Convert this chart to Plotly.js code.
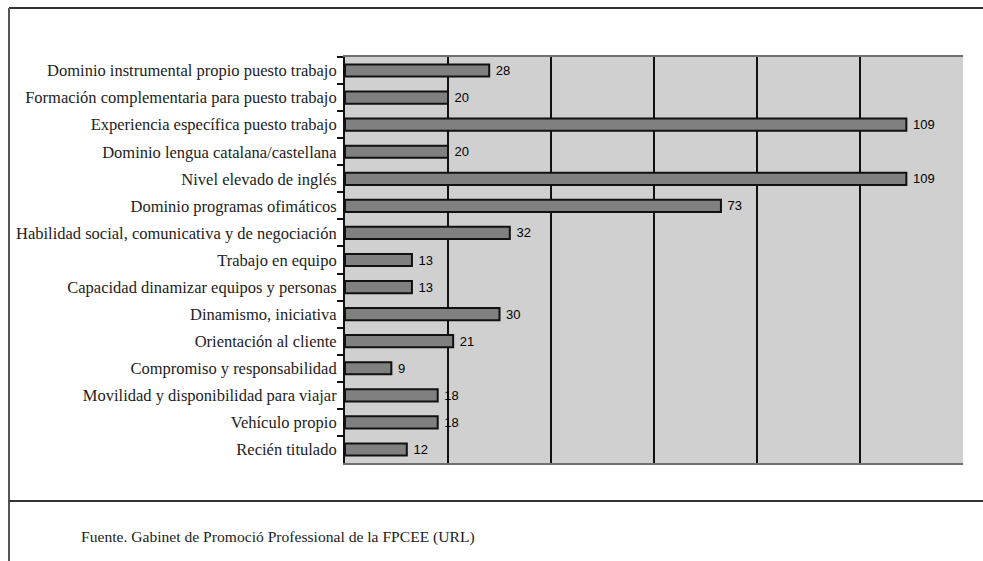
<!DOCTYPE html>
<html>
<head>
<meta charset="utf-8">
<script src="https://cdn.plot.ly/plotly-3.0.1.min.js"></script>
<style>
html,body{margin:0;padding:0;background:#fff;}
#chart{width:983px;height:561px;}
</style>
</head>
<body>
<div id="chart"></div>
<script>
const categories = [
  "Dominio instrumental propio puesto trabajo",
  "Formación complementaria para puesto trabajo",
  "Experiencia específica puesto trabajo",
  "Dominio lengua catalana/castellana",
  "Nivel elevado de inglés",
  "Dominio programas ofimáticos",
  "Habilidad social, comunicativa y de negociación",
  "Trabajo en equipo",
  "Capacidad dinamizar equipos y personas",
  "Dinamismo, iniciativa",
  "Orientación al cliente",
  "Compromiso y responsabilidad",
  "Movilidad y disponibilidad para viajar",
  "Vehículo propio",
  "Recién titulado"
];
const values = [28, 20, 109, 20, 109, 73, 32, 13, 13, 30, 21, 9, 18, 18, 12];
const sourceText = "Fuente. Gabinet de Promoció Professional de la FPCEE (URL)";

const W = 983, H = 561, ml = 345, mr = 20, mt = 57, mb = 98;
const pw = W - ml - mr, ph = H - mt - mb;
const px = x => (x - ml) / pw;
const py = y => (H - mb - y) / ph;

const trace = {
  type: 'bar',
  orientation: 'h',
  y: categories,
  x: values,
  text: values.map(v => '\u00a0' + v),
  textposition: 'outside',
  constraintext: 'none',
  cliponaxis: false,
  textfont: {family: 'Liberation Sans, Arial, sans-serif', size: 13, color: '#000'},
  outsidetextfont: {family: 'Liberation Sans, Arial, sans-serif', size: 13, color: '#000'},
  marker: {color: '#808080', line: {color: '#111', width: 2}},
  width: 0.45,
  hoverinfo: 'none'
};

const layout = {
  width: W, height: H,
  margin: {l: ml, r: mr, t: mt, b: mb, pad: 0},
  paper_bgcolor: '#ffffff',
  plot_bgcolor: '#d0d0d0',
  showlegend: false,
  xaxis: {
    range: [0, 120],
    dtick: 20,
    tick0: 0,
    showgrid: true,
    gridcolor: '#111',
    gridwidth: 2,
    zeroline: false,
    showticklabels: false,
    ticks: '',
    showline: true,
    linecolor: '#707070',
    linewidth: 2,
    mirror: true,
    fixedrange: true
  },
  yaxis: {
    type: 'category',
    autorange: 'reversed',
    tickson: 'boundaries',
    ticks: 'outside',
    ticklen: 6,
    tickwidth: 2,
    tickcolor: '#111',
    showgrid: false,
    zeroline: false,
    showline: true,
    linecolor: '#111',
    linewidth: 2,
    tickfont: {family: 'Liberation Serif, Times New Roman, serif', size: 16.5, color: '#222'},
    ticklabelstandoff: 3,
    fixedrange: true
  },
  shapes: [
    {type: 'line', xref: 'paper', yref: 'paper', x0: px(9), x1: px(983), y0: py(8), y1: py(8), line: {color: '#333', width: 2}},
    {type: 'line', xref: 'paper', yref: 'paper', x0: px(9), x1: px(9), y0: py(8), y1: py(561), line: {color: '#555', width: 2}},
    {type: 'line', xref: 'paper', yref: 'paper', x0: px(9), x1: px(983), y0: py(501), y1: py(501), line: {color: '#333', width: 2}}
  ],
  annotations: [
    {xref: 'paper', yref: 'paper', x: px(79), y: py(537), xanchor: 'left', yanchor: 'middle', showarrow: false,
     text: sourceText, font: {family: 'Liberation Serif, Times New Roman, serif', size: 15.6, color: '#222'}}
  ]
};

Plotly.newPlot('chart', [trace], layout, {displayModeBar: false, staticPlot: true});
</script>
</body>
</html>
